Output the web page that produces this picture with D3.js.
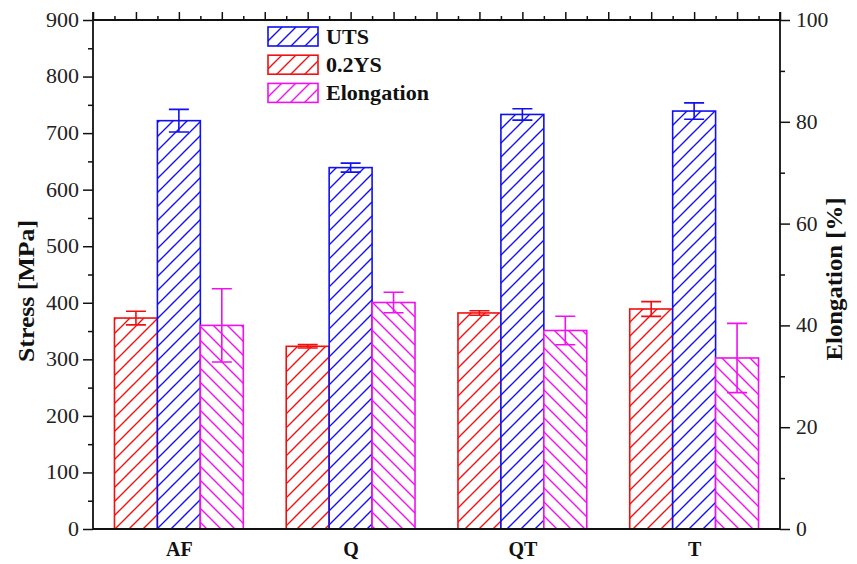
<!DOCTYPE html>
<html>
<head>
<meta charset="utf-8">
<script src="https://cdn.jsdelivr.net/npm/d3@7"></script>
<style>
  html, body { margin: 0; padding: 0; background: #fff; }
  svg { display: block; }
  svg text { font-family: "Liberation Serif", "Tinos", "Times New Roman", Times, "DejaVu Serif", "Noto Serif", serif !important; }
</style>
</head>
<body>
<svg id="chart" width="857" height="564"></svg>
<script>
// ---- data ----
const categories = ["AF", "Q", "QT", "T"];
const utsValues = [722, 639, 733, 739];
const utsErrors = [20, 8, 10, 14.5];
const ysValues = [373, 323, 382, 389];
const ysErrors = [12, 3, 4, 13];
const elongValues = [40.0, 44.5, 39.0, 33.6];
const elongErrors = [7.2, 2.0, 2.8, 6.8];
const stressTicks = [0, 100, 200, 300, 400, 500, 600, 700, 800, 900];
const elongTicks = [0, 20, 40, 60, 80, 100];
const legendLabels = ["UTS", "0.2YS", "Elongation"];

// ---- layout ----
const svg = d3.select("#chart");
const L = 93, R = 780, T = 20, B = 529;

const x = d3.scaleLinear().domain([0.5, categories.length + 0.5]).range([L, R]);
const yS = d3.scaleLinear().domain([0, 900]).range([B, T]);
const yE = d3.scaleLinear().domain([0, 100]).range([B, T]);
const bw = 0.25; // bar width in category units

const colors = { uts: "#1010f0", ys: "#f01010", el: "#f010f0" };

function stretch(sel, f) {
  sel.each(function () {
    const w = this.getComputedTextLength();
    if (w > 0) d3.select(this).attr("textLength", w * f).attr("lengthAdjust", "spacingAndGlyphs");
  });
}

// ---- patterns ----
const defs = svg.append("defs");
function hatch(id, color, dir) {
  const s = 14;
  const p = defs.append("pattern").attr("id", id)
    .attr("patternUnits", "userSpaceOnUse").attr("width", s).attr("height", s);
  const d = dir === "/"
    ? `M-3,3 L3,-3 M0,${s} L${s},0 M${s-3},${s+3} L${s+3},${s-3}`
    : `M-3,${s-3} L3,${s+3} M0,0 L${s},${s} M${s-3},-3 L${s+3},3`;
  p.append("path").attr("d", d).attr("stroke", color).attr("stroke-width", 1.4).attr("fill", "none");
}
hatch("hUts", colors.uts, "/");
hatch("hYs", colors.ys, "/");
hatch("hEl", colors.el, "\\");
hatch("hElLeg", colors.el, "/");

// ---- series ----
const series = [
  { key: "ys", vals: ysValues, errs: ysErrors, y: yS, off: -1, fill: "url(#hYs)", color: colors.ys },
  { key: "uts", vals: utsValues, errs: utsErrors, y: yS, off: 0, fill: "url(#hUts)", color: colors.uts },
  { key: "el", vals: elongValues, errs: elongErrors, y: yE, off: 1, fill: "url(#hEl)", color: colors.el }
];

series.forEach(s => {
  const g = svg.append("g");
  categories.forEach((c, i) => {
    const cx = i + 1 + s.off * bw;
    const x0 = x(cx - bw / 2), x1 = x(cx + bw / 2);
    g.append("rect")
      .attr("x", x0).attr("y", s.y(s.vals[i]))
      .attr("width", x1 - x0).attr("height", s.y(0) - s.y(s.vals[i]))
      .attr("fill", "#fff").attr("stroke", "none");
    g.append("rect")
      .attr("x", x0).attr("y", s.y(s.vals[i]))
      .attr("width", x1 - x0).attr("height", s.y(0) - s.y(s.vals[i]))
      .attr("fill", s.fill).attr("stroke", s.color).attr("stroke-width", 1.6);
    const xc = x(cx);
    const hi = s.y(s.vals[i] + s.errs[i]), lo = s.y(s.vals[i] - s.errs[i]);
    const cap = 10;
    g.append("path")
      .attr("d", `M${xc},${hi} L${xc},${lo} M${xc - cap},${hi} L${xc + cap},${hi} M${xc - cap},${lo} L${xc + cap},${lo}`)
      .attr("stroke", s.color).attr("stroke-width", 1.6).attr("fill", "none");
  });
});

// ---- axes ----
const axisColor = "#111";
function styleAxis(g) {
  g.select(".domain").remove();
  g.attr("font-family", null);
  g.selectAll("line").attr("stroke", axisColor).attr("stroke-width", 1.5);
  g.selectAll("text").attr("fill", "#222").style("font-size", "20px");
}

// minor ticks left/right
const leftMinor = d3.range(50, 900, 100);
svg.append("g").attr("transform", `translate(${L},0)`)
  .call(d3.axisLeft(yS).tickValues(leftMinor).tickSize(5).tickFormat(""))
  .call(styleAxis);
const leftAx = svg.append("g").attr("transform", `translate(${L},0)`)
  .call(d3.axisLeft(yS).tickValues(stressTicks).tickSize(10).tickPadding(4).tickFormat(d3.format("d")))
  .call(styleAxis);
stretch(leftAx.selectAll("text"), 1.1);

const rightMinor = d3.range(10, 100, 20);
svg.append("g").attr("transform", `translate(${R},0)`)
  .call(d3.axisRight(yE).tickValues(rightMinor).tickSize(5).tickFormat(""))
  .call(styleAxis);
const rightAx = svg.append("g").attr("transform", `translate(${R},0)`)
  .call(d3.axisRight(yE).tickValues(elongTicks).tickSize(10).tickPadding(6).tickFormat(d3.format("d")))
  .call(styleAxis);
stretch(rightAx.selectAll("text"), 1.08);

// top axis (outward ticks, major every 0.25, minor every 0.125)
const topMajor = d3.range(0.5, 4.5001, 0.25);
const topMinor = d3.range(0.625, 4.5, 0.25);
svg.append("g").attr("transform", `translate(0,${T})`)
  .call(d3.axisTop(x).tickValues(topMinor).tickSize(4).tickFormat(""))
  .call(styleAxis);
svg.append("g").attr("transform", `translate(0,${T})`)
  .call(d3.axisTop(x).tickValues(topMajor).tickSize(8).tickFormat(""))
  .call(styleAxis);

// bottom axis labels
const xb = svg.append("g").attr("transform", `translate(0,${B})`)
  .call(d3.axisBottom(x).tickValues(categories.map((c, i) => i + 1)).tickSize(0).tickPadding(13)
    .tickFormat((d, i) => categories[i]));
xb.select(".domain").remove();
xb.attr("font-family", null);
xb.selectAll("text").attr("fill", "#111").style("font-size", "20px").style("font-weight", "bold");

// frame lines
svg.append("path")
  .attr("d", `M${L},${T} L${R},${T} M${L},${B} L${R},${B} M${L},${T - 8} L${L},${B} M${R},${T - 8} L${R},${B}`)
  .attr("stroke", axisColor).attr("stroke-width", 1.8).attr("fill", "none");

// axis titles
svg.append("text").attr("transform", `translate(34,291) rotate(-90)`)
  .attr("text-anchor", "middle").style("font-size", "23px").style("font-weight", "bold")
  .attr("fill", "#111").attr("textLength", 142).attr("lengthAdjust", "spacingAndGlyphs")
  .text("Stress [MPa]");
svg.append("text").attr("transform", `translate(842,279) rotate(-90)`)
  .attr("text-anchor", "middle").style("font-size", "23px").style("font-weight", "bold")
  .attr("fill", "#111").attr("textLength", 163).attr("lengthAdjust", "spacingAndGlyphs")
  .text("Elongation [%]");

// legend
const legFills = ["url(#hUts)", "url(#hYs)", "url(#hElLeg)"];
const legColors = [colors.uts, colors.ys, colors.el];
const leg = svg.append("g").attr("transform", "translate(268,27)");
legendLabels.forEach((lab, i) => {
  const gy = i * 28.2;
  leg.append("rect").attr("x", 0).attr("y", gy).attr("width", 50).attr("height", 19)
    .attr("fill", legFills[i]).attr("stroke", legColors[i]).attr("stroke-width", 1.6);
  leg.append("text").attr("x", 58).attr("y", gy + 17).text(lab)
    .style("font-size", "21px").style("font-weight", "bold").attr("fill", "#111");
});
stretch(leg.selectAll("text"), 1.05);
</script>
</body>
</html>
